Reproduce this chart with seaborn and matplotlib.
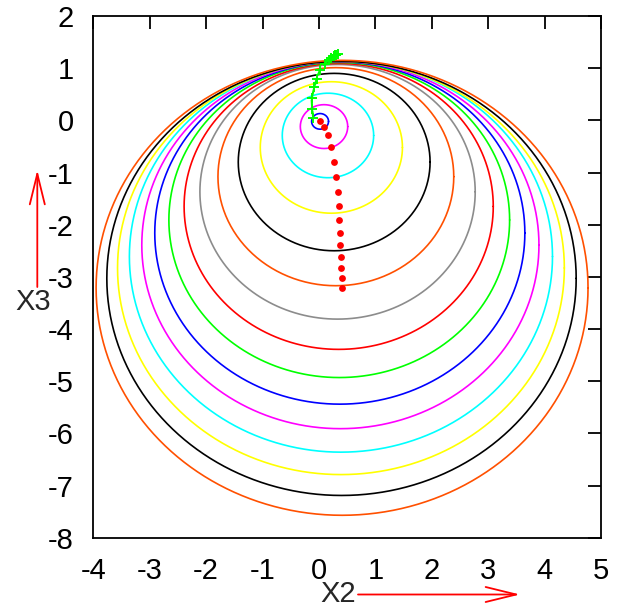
import numpy as np
import pandas as pd
import matplotlib
matplotlib.use('Agg')
import matplotlib.pyplot as plt
import seaborn as sns

# centres of the rings (red dots)
center_x = [0.02, 0.09, 0.16, 0.22, 0.27, 0.30, 0.33, 0.35, 0.36, 0.37, 0.38, 0.39, 0.39, 0.40, 0.41]
center_y = [-0.02, -0.12, -0.29, -0.52, -0.80, -1.08, -1.37, -1.65, -1.91, -2.16, -2.39, -2.61, -2.83, -3.03, -3.21]
# ring radii, one per centre
radius = [0.15, 0.42, 0.81, 1.26, 1.70, 2.09, 2.44, 2.74, 3.02, 3.28, 3.52, 3.75, 3.96, 4.16, 4.36]
ring_colors = ['#0000ff', '#ff00ff', '#00ffff', '#ffff00', '#000000', '#ff5000', '#8c8c8c',
               '#ff0000', '#00ff00', '#0000ff', '#ff00ff', '#00ffff', '#ffff00', '#000000', '#ff5000']

# green trajectory
path_x = [-0.10, -0.12, -0.13, -0.08, -0.04, 0.02, 0.10, 0.17, 0.22, 0.26, 0.29, 0.31, 0.33]
path_y = [0.04, 0.22, 0.42, 0.64, 0.80, 0.97, 1.08, 1.15, 1.20, 1.23, 1.25, 1.26, 1.27]

x_ticks = [-4, -3, -2, -1, 0, 1, 2, 3, 4, 5]
y_ticks = [-8, -7, -6, -5, -4, -3, -2, -1, 0, 1, 2]

sns.set_style('white')
plt.rcParams['font.family'] = ['Liberation Sans', 'DejaVu Sans']
plt.rcParams['axes.unicode_minus'] = False

# rings as parametric curves around each centre
t = np.linspace(0, 2 * np.pi, 361)
rows = []
for i, r in enumerate(radius):
    rows.append(pd.DataFrame({'x': center_x[i] + r * np.cos(t),
                              'y': center_y[i] + r * np.sin(t),
                              'ring': i}))
rings = pd.concat(rows, ignore_index=True)

fig = plt.figure(figsize=(6.29, 6.10), dpi=100)
ax = fig.add_axes([0.1483, 0.1185, 0.8072, 0.8553])

sns.lineplot(data=rings, x='x', y='y', hue='ring', palette=ring_colors,
             sort=False, estimator=None, legend=False, linewidth=1.2, ax=ax)

sns.lineplot(x=path_x, y=path_y, sort=False, estimator=None, color='#00ff00',
             linestyle='--', marker='+', markersize=7, markeredgewidth=1.4,
             markeredgecolor='#00ff00', linewidth=1.5, ax=ax, zorder=6)

sns.scatterplot(x=center_x, y=center_y, color='red', s=24, linewidth=0, ax=ax, zorder=7)

ax.set_xlim(-4, 5)
ax.set_ylim(-8, 2)
ax.set_xticks(x_ticks)
ax.set_yticks(y_ticks)
ax.set_xticklabels([str(v) for v in x_ticks])
ax.set_yticklabels([str(v) for v in y_ticks])
ax.set_xlabel('')
ax.set_ylabel('')
ax.tick_params(direction='in', length=9.5, width=1.3, top=True, right=True,
               labelsize=21, colors='black')
ax.tick_params(axis='x', pad=14)
ax.tick_params(axis='y', pad=14)
for s in ax.spines.values():
    s.set_color('black')
    s.set_linewidth(1.3)

# axis names with red arrows, gnuplot style
fig.text(33 / 629, 1 - 302 / 610, 'X3', fontsize=21, ha='center', va='center')
fig.text(338 / 629, 1 - 594 / 610, 'X2', fontsize=21, ha='center', va='center')
arrow = dict(arrowstyle='->,head_length=1.1,head_width=0.27', color='red',
             lw=1.3, mutation_scale=20, shrinkA=0, shrinkB=0)
ax.annotate('', xy=(37.3 / 629, 1 - 170 / 610), xytext=(37.3 / 629, 1 - 287 / 610),
            xycoords='figure fraction', textcoords='figure fraction',
            arrowprops=arrow, annotation_clip=False)
ax.annotate('', xy=(520 / 629, 1 - 594.5 / 610), xytext=(358 / 629, 1 - 594.5 / 610),
            xycoords='figure fraction', textcoords='figure fraction',
            arrowprops=arrow, annotation_clip=False)

plt.savefig('out.png', dpi=100)
